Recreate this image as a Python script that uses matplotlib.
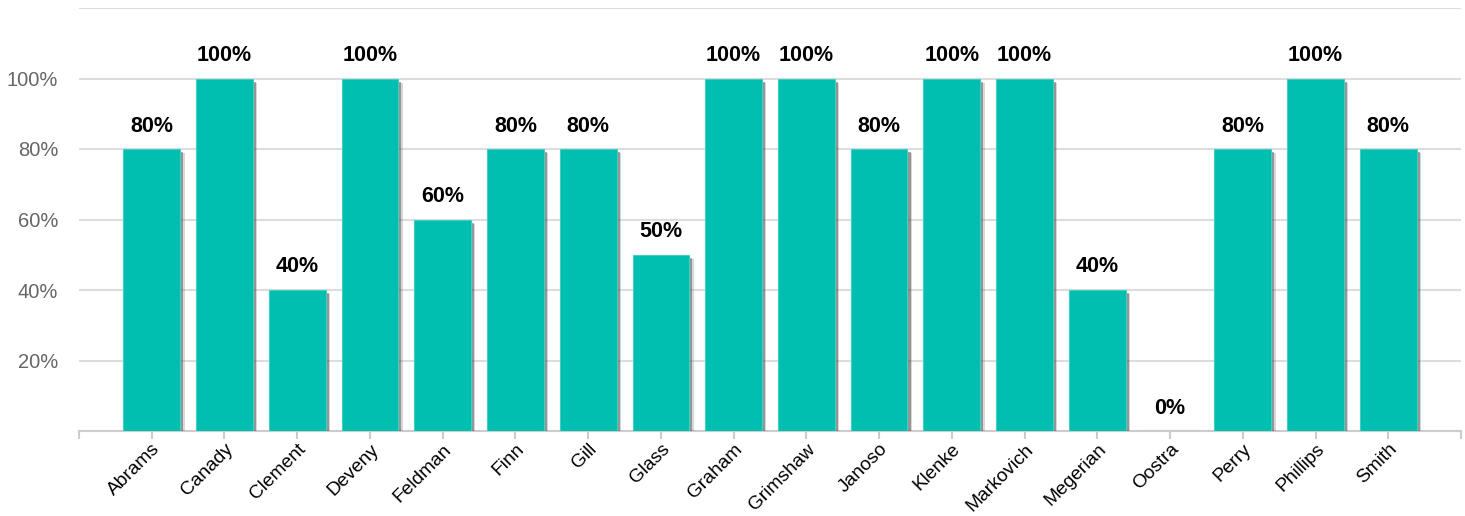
import matplotlib
matplotlib.use("Agg")
import matplotlib.pyplot as plt
import matplotlib.patheffects as pe
from matplotlib.ticker import FuncFormatter

names = ["Abrams", "Canady", "Clement", "Deveny", "Feldman", "Finn", "Gill", "Glass",
         "Graham", "Grimshaw", "Janoso", "Klenke", "Markovich", "Megerian", "Oostra",
         "Perry", "Phillips", "Smith"]
values = [80, 100, 40, 100, 60, 80, 80, 50, 100, 100, 80, 100, 100, 40, 0, 80, 100, 80]
yticks = [20, 40, 60, 80, 100]

plt.rcParams['font.family'] = ['Liberation Sans', 'DejaVu Sans']

fig = plt.figure(figsize=(14.65, 5.16), dpi=100)
ax = fig.add_axes([79/1465, 1 - 431/516, (1461-79)/1465, (431-8)/516])

x = list(range(len(names)))
bars = ax.bar(x, values, width=0.78, color='#00BFB0', edgecolor='#40CFC2', linewidth=0.8, zorder=3)
for b in bars:
    b.set_path_effects([
        pe.SimplePatchShadow(offset=(3.2, -3.2), shadow_rgbFace='#666666', alpha=0.25),
        pe.SimplePatchShadow(offset=(2.2, -2.2), shadow_rgbFace='#444444', alpha=0.45),
        pe.Normal()])

for xi, v in zip(x, values):
    ax.annotate(f"{v}%", (xi, v), xytext=(0, 9), textcoords='offset points',
                ha='center', va='bottom', fontsize=15.5, fontweight='bold', color='black')

ax.set_xlim(-1, 18)
ax.set_ylim(0, 120)
ax.set_yticks([0] + yticks + [120])
ax.yaxis.set_major_formatter(FuncFormatter(lambda v, p: f"{int(v)}%" if 0 < v < 120 else ""))
ax.tick_params(axis='y', length=0, labelsize=14.5, labelcolor='#666666', pad=15)
ax.grid(axis='y', color='#dddddd', linewidth=1.5, zorder=0)

ax.set_xticks([-1] + x + [18])
ax.set_xticklabels([""] + names + [""], rotation=45, ha='right', rotation_mode='anchor', fontsize=13.8)
ax.tick_params(axis='x', length=6, color='#cccccc', width=1.5, pad=1)

for s in ['top', 'right', 'left']:
    ax.spines[s].set_visible(False)
ax.spines['bottom'].set_color('#cccccc')
ax.spines['bottom'].set_linewidth(1.5)

fig.savefig("out.png", dpi=100)
